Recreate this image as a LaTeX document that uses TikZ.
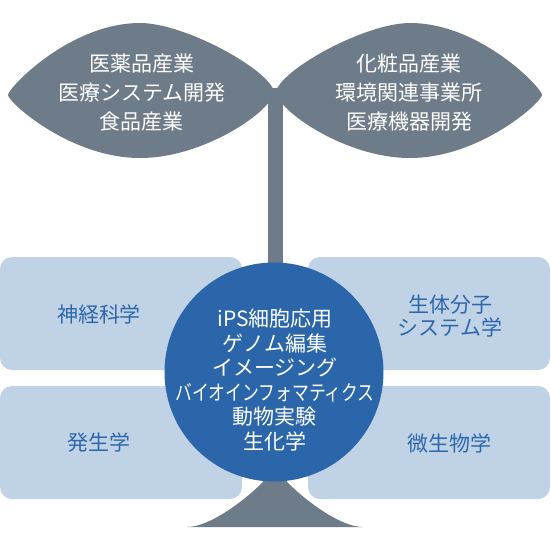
\documentclass[tikz,border=0pt]{standalone}
\usepackage{fontspec}
\usepackage{graphicx}
\setmainfont{Noto Sans CJK JP}
\definecolor{leafgray}{HTML}{6E7B88}
\definecolor{boxblue}{HTML}{BFD2E6}
\definecolor{coreblue}{HTML}{2A66A9}
\definecolor{boxtext}{HTML}{2F68AA}
\tikzset{
  leaftext/.style={text=white, align=center, inner sep=0pt, font=\fontsize{21}{29}\selectfont},
  boxlabel/.style={text=boxtext, align=center, inner sep=0pt, font=\fontsize{21}{23}\selectfont},
  coretext/.style={text=white, align=center, inner sep=0pt, font=\fontsize{21}{24.6}\selectfont},
  fieldbox/.style={fill=boxblue, rounded corners=12pt},
}
\begin{document}
\begin{tikzpicture}[x=1pt,y=-1pt]
\useasboundingbox (0,0) rectangle (550,550);
% boxes
\fill[fieldbox] (0,257) rectangle (242,370);
\fill[fieldbox] (0,386) rectangle (242,499);
\fill[fieldbox] (308,257) rectangle (550,370);
\fill[fieldbox] (308,386) rectangle (550,499);
% stem
\fill[leafgray] (267.5,88) rectangle (282.5,480);
% flared base
\fill[leafgray] (263,465) -- (263,482) .. controls (245,500) and (210,527) .. (187,527)
  -- (363,527) .. controls (340,527) and (305,500) .. (287,482) -- (287,465) -- cycle;
% left leaf
\fill[leafgray] (8,95) .. controls (8,88) and (70,23) .. (140,23)
  .. controls (185,23) and (270,70) .. (274,92)
  .. controls (273,110) and (205,158) .. (140,158)
  .. controls (70,158) and (8,102) .. (8,95) -- cycle;
% right leaf
\fill[leafgray] (542,95) .. controls (542,88) and (480,23) .. (410,23)
  .. controls (365,23) and (280,70) .. (276,92)
  .. controls (277,110) and (345,158) .. (410,158)
  .. controls (480,158) and (542,102) .. (542,95) -- cycle;
% core circle
\node[circle, fill=coreblue, minimum size=219pt, inner sep=0pt] (core) at (274,372) {};
% texts
\node[leaftext] (lefttxt) at (142,93) {医薬品産業\\医療システム開発\\食品産業};
\node[leaftext] (righttxt) at (409,93) {化粧品産業\\環境関連事業所\\医療機器開発};
\node[boxlabel] (neuro) at (99,314) {神経科学};
\node[boxlabel] (sysbio) at (450,316) {生体分子\\システム学};
\node[boxlabel] (devel) at (99,443) {発生学};
\node[boxlabel] (micro) at (449,443) {微生物学};
\node[coretext] (coretxt) at (275,380) {iPS細胞応用\\ゲノム編集\\イメージング\\\scalebox{0.8}[1]{バイオインフォマティクス}\\動物実験\\生化学};
\end{tikzpicture}
\end{document}
